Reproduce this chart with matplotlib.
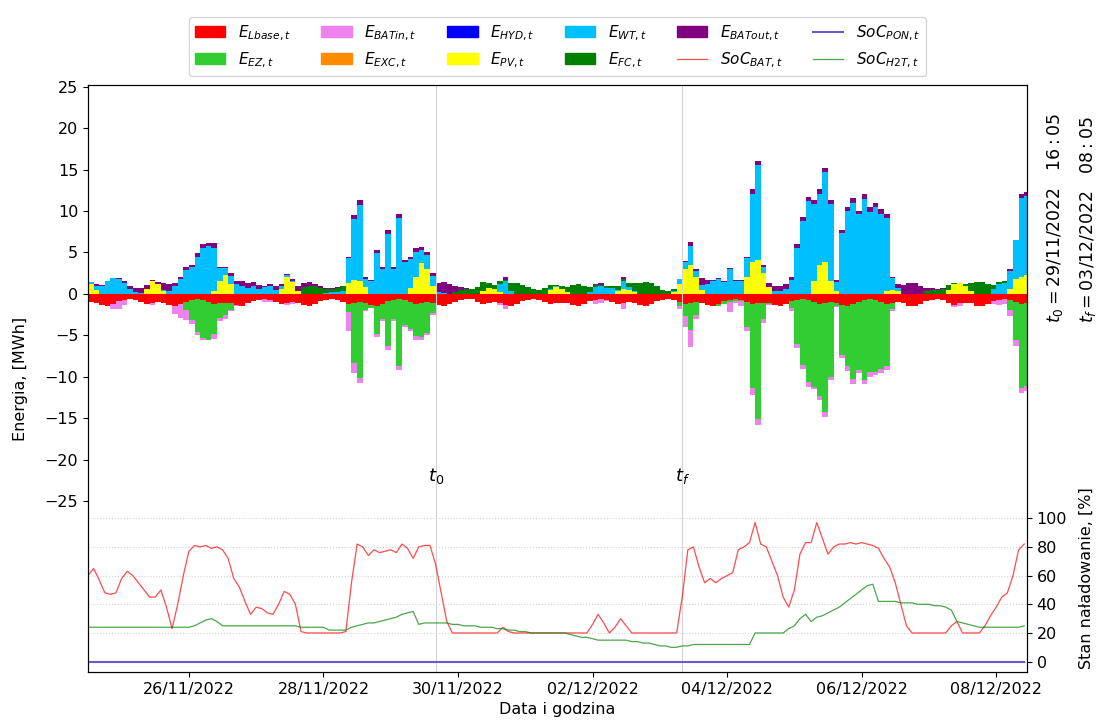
import numpy as np
import matplotlib
matplotlib.use('Agg')
import matplotlib.pyplot as plt
import matplotlib.dates as mdates
from matplotlib.patches import Patch
from matplotlib.lines import Line2D
from datetime import datetime, timedelta

# 2-hour steps from 24/11/2022 12:00, one row = 12 steps (12:00 -> 10:00 next day)
start = datetime(2022, 11, 24, 12, 0)
t0 = datetime(2022, 11, 29, 16, 5)
tf = datetime(2022, 12, 3, 8, 5)

E_PV = [
    1.2, 0.5, 0, 0, 0, 0, 0, 0, 0, 0, 0.6, 1.5,
    1.2, 0.4, 0, 0, 0, 0, 0, 0, 0, 0, 0.3, 1.6,
    2.3, 1.2, 0, 0, 0, 0, 0, 0, 0, 0, 0.6, 2.1,
    1.4, 0.3, 0, 0, 0, 0, 0, 0, 0, 0, 1.3, 1.7,
    1.6, 0.8, 0, 0, 0, 0, 0, 0, 0, 0.7, 2.0, 3.7,
    3.0, 1.0, 0, 0, 0, 0, 0, 0, 0, 0, 0.4, 0.7,
    0.6, 0.2, 0, 0, 0, 0, 0, 0, 0, 0, 0.5, 0.8,
    0.6, 0.2, 0, 0, 0, 0, 0, 0, 0, 0, 0.3, 0.6,
    0.5, 0.2, 0, 0, 0, 0, 0, 0, 0.2, 1.2, 3.0, 3.5,
    2.0, 0.5, 0, 0, 0, 0, 0, 0, 0, 2.0, 3.8, 4.1,
    2.5, 0.8, 0, 0, 0, 0, 0, 0, 0, 1.5, 3.5, 3.9,
    1.5, 0.3, 0, 0, 0, 0, 0, 0, 0, 0, 0.3, 0.5,
    0.3, 0, 0, 0, 0, 0, 0, 0, 0, 0.5, 1.2, 1.3,
    0.9, 0.3, 0, 0, 0, 0, 0, 0, 0.6, 1.8, 2.1, 2.3]

E_WT = [
    0.2, 0.5, 1.0, 1.5, 1.9, 1.8, 1.3, 0.6, 0.2, 0.1, 0, 0,
    0, 0.1, 0.3, 1.0, 1.8, 2.9, 3.3, 4.5, 5.5, 5.8, 5.2, 1.5,
    0.8, 1.0, 1.2, 1.0, 0.7, 1.0, 0.6, 0.8, 0.9, 0.5, 0.3, 0.2,
    0.2, 0.1, 0, 0, 0, 0, 0.1, 0.2, 0.2, 0.3, 3.0, 7.3,
    9.1, 1.0, 1.5, 4.9, 3.0, 7.2, 3.0, 9.2, 3.8, 3.5, 3.1, 1.6,
    1.7, 1.2, 0.2, 0.1, 0, 0, 0, 0, 0, 0, 0, 0,
    0, 1.0, 1.6, 0.3, 0, 0, 0, 0, 0, 0, 0.1, 0.1,
    0, 0, 0, 0, 0, 0.2, 0.8, 0.9, 0.7, 0.7, 0.2, 1.0,
    0.3, 0.1, 0, 0, 0, 0, 0, 0, 0.1, 0.6, 0.8, 2.3,
    0.8, 0.6, 1.2, 1.5, 1.8, 1.4, 3.0, 1.5, 1.6, 2.3, 8.3, 11.4,
    0.7, 0.0, 0.3, 0.4, 0.6, 1.7, 5.6, 8.8, 11.2, 9.4, 8.6, 10.8,
    9.4, 1.1, 7.3, 10.0, 11.0, 9.6, 11.5, 9.9, 10.5, 9.7, 8.8, 1.4,
    0.4, 0, 0, 0, 0, 0, 0, 0, 0, 0, 0, 0,
    0, 0, 0, 0, 0, 0.6, 1.2, 1.3, 2.2, 4.7, 9.5, 9.5]

E_FC = [
    0, 0, 0, 0, 0, 0, 0, 0, 0, 0, 0, 0,
    0, 0, 0, 0, 0, 0, 0, 0, 0, 0, 0, 0,
    0, 0, 0, 0, 0, 0, 0, 0, 0, 0, 0, 0,
    0, 0, 0.8, 1.0, 0.9, 0.7, 0.5, 0.4, 0.5, 0.6, 0, 0,
    0, 0, 0, 0, 0, 0, 0, 0, 0, 0, 0, 0,
    0, 0, 0, 0, 0, 0.2, 0.5, 0.6, 0.6, 0.8, 1.0, 0.6,
    0.5, 0.3, 0.1, 1.0, 1.3, 1.1, 0.8, 0.6, 0.5, 0.7, 0.5, 0.2,
    0.4, 0.6, 1.1, 1.2, 1.0, 0.6, 0.3, 0.2, 0.2, 0.3, 0.5, 0.2,
    0.5, 1.0, 1.3, 1.4, 1.3, 1.0, 0.5, 0.3, 0.3, 0, 0, 0,
    0, 0, 0, 0, 0, 0, 0, 0, 0, 0, 0, 0,
    0, 0, 0, 0, 0, 0, 0, 0, 0, 0, 0, 0,
    0, 0, 0, 0, 0, 0, 0, 0, 0, 0, 0, 0,
    0, 0, 0, 0, 0, 0.3, 0.5, 0.5, 0.6, 0.6, 0.1, 0,
    0.3, 1.0, 1.4, 1.4, 1.2, 0.5, 0.2, 0.2, 0, 0, 0, 0]

E_BATout = [
    0, 0.2, 0.1, 0, 0, 0.1, 0.2, 0.4, 0.5, 0.6, 0.5, 0.2,
    0.2, 0.8, 0.9, 0.3, 0.2, 0.3, 0.2, 0.4, 0.5, 0.3, 0.6, 0.2,
    0.1, 0.3, 0.4, 0.5, 0.6, 0.4, 0.5, 0.2, 0.3, 0.4, 0.3, 0.1,
    0.2, 0.6, 0.5, 0.4, 0.3, 0.2, 0.1, 0.1, 0.1, 0.1, 0.2, 0.5,
    0.6, 0.2, 0.2, 0.4, 0.3, 0.5, 0.3, 0.5, 0.3, 0.3, 0.4, 0.4,
    0.3, 0.3, 1.1, 1.3, 1.2, 0.8, 0.3, 0.1, 0, 0, 0, 0,
    0, 0.1, 0.3, 0, 0, 0, 0, 0, 0, 0, 0, 0,
    0, 0, 0, 0, 0, 0, 0.1, 0.2, 0, 0, 0, 0.2,
    0, 0, 0, 0, 0, 0, 0, 0, 0, 0, 0.2, 0.5,
    0.2, 0.8, 0.5, 0.2, 0.1, 0.2, 0.1, 0.2, 0.1, 0.2, 0.5, 0.5,
    0.3, 0.5, 0.7, 0.6, 0.6, 0.3, 0.4, 0.5, 0.5, 0.4, 0.5, 0.5,
    0.4, 0.3, 0.4, 0.5, 0.6, 0.4, 0.5, 0.6, 0.5, 0.5, 0.6, 0.2,
    0.5, 1.1, 1.3, 1.3, 0.9, 0.4, 0.2, 0.1, 0.1, 0, 0, 0,
    0, 0, 0, 0, 0, 0, 0, 0, 0.2, 0, 0.4, 0.5]

E_HYD = [0.0] * 168
E_EXC = [0.0] * 168

E_Lbase = [
    1.0, 1.1, 1.3, 1.4, 1.2, 0.9, 0.7, 0.65, 0.7, 1.0, 1.2, 1.05,
    1.0, 1.15, 1.35, 1.45, 1.2, 0.95, 0.7, 0.6, 0.7, 1.0, 1.25, 1.1,
    1.05, 1.1, 1.3, 1.4, 1.15, 0.9, 0.7, 0.65, 0.75, 1.0, 1.2, 1.1,
    1.0, 1.1, 1.3, 1.4, 1.2, 0.9, 0.7, 0.6, 0.7, 1.0, 1.2, 1.1,
    1.0, 1.15, 1.35, 1.4, 1.2, 0.9, 0.7, 0.65, 0.7, 1.0, 1.2, 1.05,
    1.0, 1.1, 1.35, 1.4, 1.2, 0.95, 0.75, 0.6, 0.65, 1.0, 1.25, 1.1,
    1.0, 1.1, 1.3, 1.45, 1.2, 0.9, 0.7, 0.65, 0.7, 1.0, 1.2, 1.05,
    1.05, 1.1, 1.3, 1.4, 1.2, 0.9, 0.7, 0.6, 0.7, 1.0, 1.2, 1.1,
    1.0, 1.15, 1.35, 1.4, 1.2, 0.9, 0.7, 0.65, 0.7, 1.0, 1.2, 1.05,
    1.0, 1.1, 1.3, 1.4, 1.2, 0.9, 0.7, 0.65, 0.7, 1.0, 1.2, 1.1,
    1.05, 1.1, 1.35, 1.4, 1.2, 0.9, 0.7, 0.6, 0.7, 1.0, 1.2, 1.1,
    1.0, 1.15, 1.3, 1.45, 1.2, 0.95, 0.7, 0.65, 0.7, 1.0, 1.2, 1.05,
    1.0, 1.15, 1.4, 1.5, 1.25, 0.9, 0.7, 0.6, 0.7, 1.05, 1.3, 1.1,
    1.05, 1.1, 1.4, 1.5, 1.25, 0.9, 0.7, 0.65, 0.7, 1.0, 1.2, 1.1]

E_BATin = [
    0, 0, 0, 0.1, 0.6, 0.9, 0.6, 0, 0, 0, 0, 0.3,
    0, 0, 0, 1.0, 1.7, 1.2, 0.5, 0.3, 0.2, 0, 0.6, 0.4,
    0.5, 0.2, 0.1, 0, 0, 0, 0, 0.3, 0.2, 0, 0, 0.2,
    0.2, 0, 0, 0, 0, 0, 0, 0, 0, 0, 2.3, 1.2,
    0.6, 0.1, 0.1, 0.4, 0.3, 0.5, 0.3, 0.5, 0.3, 0.3, 0.4, 0.3,
    0.3, 0.2, 0, 0, 0, 0, 0, 0, 0, 0, 0, 0,
    0, 0.2, 0.5, 0, 0, 0, 0, 0, 0, 0, 0, 0,
    0, 0, 0, 0, 0, 0, 0.5, 0.5, 0.2, 0, 0, 0.7,
    0, 0, 0, 0, 0, 0, 0, 0, 0, 0.3, 1.3, 2.0,
    0.5, 0, 0, 0, 0, 0, 1.2, 0.3, 0.5, 0.5, 0.8, 0.7,
    0.4, 0.1, 0, 0, 0, 0.3, 0.5, 0.4, 0.6, 0.3, 0.5, 0.6,
    0.4, 0.1, 0.3, 0.5, 0.6, 0.4, 0.5, 0.6, 0.4, 0.5, 0.5, 0.2,
    0, 0, 0, 0, 0, 0, 0, 0, 0, 0, 0.3, 0.3,
    0, 0, 0, 0, 0, 0.3, 0.6, 0.6, 0.8, 0.8, 0.6, 0.6]

E_EZ = [
    0, 0, 0, 0, 0, 0, 0, 0, 0, 0, 0, 0,
    0, 0, 0, 0, 0, 1.0, 2.4, 4.0, 4.6, 4.5, 3.6, 1.8,
    1.5, 0.8, 0, 0, 0, 0, 0, 0, 0, 0, 0, 0,
    0, 0, 0, 0, 0, 0, 0, 0, 0, 0, 1.0, 7.2,
    9.1, 0.8, 0.3, 3.4, 1.8, 5.4, 2.3, 8.0, 3.0, 3.2, 3.9, 4.2,
    3.7, 1.2, 0, 0, 0, 0, 0, 0, 0, 0, 0, 0,
    0, 0, 0, 0, 0, 0, 0, 0, 0, 0, 0, 0,
    0, 0, 0, 0, 0, 0, 0, 0, 0, 0, 0, 0,
    0, 0, 0, 0, 0, 0, 0, 0, 0, 0.5, 1.5, 3.3,
    1.5, 0, 0, 0, 0.3, 0.3, 0.3, 0.2, 0.2, 3.0, 10.2, 14.0,
    2.0, 0.1, 0, 0, 0, 0.8, 5.3, 8.0, 9.9, 10.2, 11.1, 13.1,
    9.0, 0.3, 6.1, 7.3, 9.1, 8.2, 9.7, 8.8, 8.7, 8.0, 7.5, 0.8,
    0, 0, 0, 0, 0, 0, 0, 0, 0, 0, 0, 0,
    0, 0, 0, 0, 0, 0, 0, 0, 1.2, 4.5, 10.2, 10.0]

SoC_BAT = [
    60, 65, 57, 48, 47, 48, 58, 63, 60, 55, 50, 45,
    45, 50, 38, 23, 40, 60, 77, 81, 80, 81, 79, 80,
    78, 72, 58, 52, 42, 33, 38, 37, 34, 33, 40, 49,
    47, 40, 21, 20, 20, 20, 20, 20, 20, 20, 21, 55,
    82, 80, 74, 78, 76, 77, 78, 76, 82, 79, 72, 80,
    81, 81, 68, 48, 28, 20, 20, 20, 20, 20, 20, 20,
    20, 20, 24, 21, 20, 20, 20, 20, 20, 20, 20, 20,
    20, 20, 20, 20, 20, 20, 26, 33, 27, 20, 24, 30,
    25, 20, 20, 20, 20, 20, 20, 20, 20, 20, 45, 78,
    80, 66, 55, 58, 55, 58, 60, 62, 78, 80, 83, 97,
    82, 80, 70, 60, 45, 38, 50, 75, 83, 83, 97, 86,
    75, 80, 82, 82, 83, 82, 83, 82, 81, 79, 72, 66,
    55, 40, 25, 20, 20, 20, 20, 20, 20, 20, 25, 28,
    20, 20, 20, 20, 25, 32, 38, 45, 48, 60, 78, 82]

SoC_H2T = [
    24, 24, 24, 24, 24, 24, 24, 24, 24, 24, 24, 24,
    24, 24, 24, 24, 24, 24, 24, 25, 27, 29, 30, 28,
    25, 25, 25, 25, 25, 25, 25, 25, 25, 25, 25, 25,
    25, 25, 24, 24, 24, 24, 24, 22, 22, 22, 22, 24,
    25, 26, 27, 27, 28, 29, 30, 31, 33, 34, 35, 26,
    27, 27, 27, 27, 27, 26, 26, 25, 25, 25, 24, 24,
    24, 23, 23, 22, 22, 21, 21, 20, 20, 20, 20, 20,
    20, 20, 19, 18, 17, 17, 16, 15, 15, 15, 15, 15,
    15, 14, 14, 13, 13, 12, 11, 11, 10, 10, 11, 11,
    12, 12, 12, 12, 12, 12, 12, 12, 12, 12, 12, 20,
    20, 20, 20, 20, 20, 23, 25, 30, 33, 28, 31, 32,
    34, 36, 38, 41, 44, 47, 50, 53, 54, 42, 42, 42,
    42, 41, 41, 41, 40, 40, 40, 39, 39, 38, 36, 28,
    27, 26, 25, 24, 24, 24, 24, 24, 24, 24, 24, 25]

SoC_PON = [0.0] * 168

N = len(E_PV)
times = [start + timedelta(hours=2 * i) for i in range(N)]
x = mdates.date2num(times)
step = 2 / 24
xe = np.append(x, x[-1] + step)

def ext(v):
    v = np.asarray(v, dtype=float)
    return np.append(v, v[-1])

fig = plt.figure(figsize=(11.03, 7.22), dpi=100)
ax = fig.add_axes([88 / 1103, 50 / 722, 939 / 1103, 587 / 722])

pos = [(E_PV, 'yellow'), (E_WT, 'deepskyblue'), (E_FC, 'green'),
       (E_HYD, 'blue'), (E_EXC, 'darkorange'), (E_BATout, 'purple')]
bot = np.zeros(N + 1)
for vals, col in pos:
    v = ext(vals)
    ax.fill_between(xe, bot, bot + v, step='post', color=col, linewidth=0)
    bot = bot + v

neg = [(E_Lbase, 'red'), (E_EZ, 'limegreen'), (E_BATin, 'violet')]
bot = np.zeros(N + 1)
for vals, col in neg:
    v = ext(vals)
    ax.fill_between(xe, bot, bot - v, step='post', color=col, linewidth=0)
    bot = bot - v

ax.axvline(mdates.date2num(t0), color='lightgrey', lw=0.8)
ax.axvline(mdates.date2num(tf), color='lightgrey', lw=0.8)
ax.text(mdates.date2num(t0), -22, '$t_0$', ha='center', va='center', fontsize=13)
ax.text(mdates.date2num(tf), -22, '$t_f$', ha='center', va='center', fontsize=13)

ax.set_ylim(-45.6, 25.2)
ax.set_yticks(range(-25, 26, 5))
ax.set_xlim(x[0], x[0] + 14 - 1 / 24)
ticks = [datetime(2022, 11, 26) + timedelta(days=2 * k) for k in range(7)]
ax.set_xticks(mdates.date2num(ticks))
ax.xaxis.set_major_formatter(mdates.DateFormatter('%d/%m/%Y'))
ax.tick_params(labelsize=11.5)
ax.set_xlabel('Data i godzina', fontsize=11.5)
ax.set_ylabel('Energia, [MWh]', fontsize=11.5, labelpad=12)

ax2 = ax.twinx()
ax2.plot(x, SoC_PON, color='slateblue', lw=1.5)
ax2.plot(x, SoC_BAT, color='red', lw=0.9, alpha=0.7)
ax2.plot(x, SoC_H2T, color='green', lw=0.9, alpha=0.7)
ax2.set_ylim(-7.2, 402)
ax2.set_yticks([0, 20, 40, 60, 80, 100])
ax2.tick_params(labelsize=11.5)
ax2.grid(axis='y', linestyle=':', color='lightgrey')
ax2.set_ylabel('Stan naładowanie, [%]', fontsize=11.5, y=0.16, labelpad=8)

handles = [Patch(color='red'), Patch(color='limegreen'),
           Patch(color='violet'), Patch(color='darkorange'),
           Patch(color='blue'), Patch(color='yellow'),
           Patch(color='deepskyblue'), Patch(color='green'),
           Patch(color='purple'), Line2D([], [], color='red', lw=0.9, alpha=0.7),
           Line2D([], [], color='slateblue', lw=1.5), Line2D([], [], color='green', lw=0.9, alpha=0.7)]
labels = ['$E_{Lbase,t}$', '$E_{EZ,t}$', '$E_{BATin,t}$', '$E_{EXC,t}$',
          '$E_{HYD,t}$', '$E_{PV,t}$', '$E_{WT,t}$', '$E_{FC,t}$',
          '$E_{BATout,t}$', '$SoC_{BAT,t}$',
          '$SoC_{PON,t}$', '$SoC_{H2T,t}$']
ax2.legend(handles, labels, ncol=6, loc='lower center', bbox_to_anchor=(0.5, 1.0),
           fontsize=11, borderaxespad=0.6)

fig.text(1055 / 1103, (722 - 323) / 722, r'$t_0 = 29/11/2022\quad 16:05$',
         rotation=90, ha='center', va='bottom', fontsize=12.5)
fig.text(1088 / 1103, (722 - 323) / 722, r'$t_f = 03/12/2022\quad 08:05$',
         rotation=90, ha='center', va='bottom', fontsize=12.5)

fig.savefig('out.png', dpi=100)
